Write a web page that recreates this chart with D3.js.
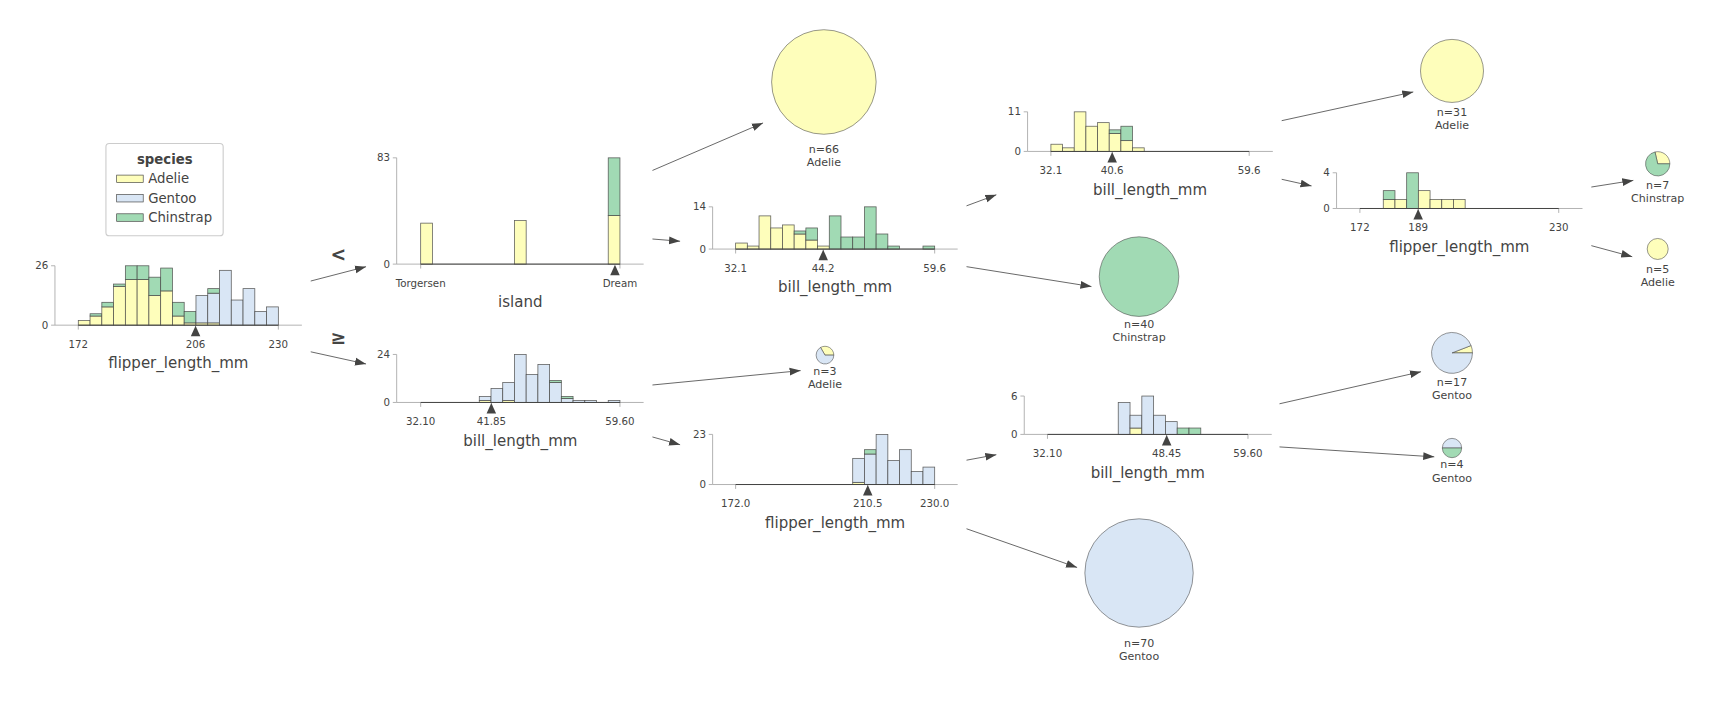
<!DOCTYPE html>
<html><head><meta charset="utf-8">
<script src="https://cdn.jsdelivr.net/npm/d3@7"></script>
<style>html,body{margin:0;padding:0;background:#fff;}svg{display:block;font-family:"DejaVu Sans",sans-serif;}</style>
</head><body>
<svg id="c" width="1734" height="718" viewBox="0 0 1568 649"></svg>
<script>
// ---------------- DATA ----------------
const species = ["Adelie", "Gentoo", "Chinstrap"];
const speciesColors = ["#FEFEBB", "#D9E6F5", "#a1dab4"];

// root: flipper_length_mm, 17 bins 172..230
const rootAdelie = [2,4,8,17,20,20,13,15,4,1,1,1,0,0,0,0,0];
const rootGentoo = [0,0,0,0,0,0,0,0,0,0,12,13,24,11,16,6,8];
const rootChin   = [0,1,2,1,6,6,8,10,6,5,0,2,0,0,0,0,0];

// island (encoded 0..2), 17 bins
const islandAdelie = [32,0,0,0,0,0,0,0,34,0,0,0,0,0,0,0,38];
const islandGentoo = [0,0,0,0,0,0,0,0,0,0,0,0,0,0,0,0,0];
const islandChin   = [0,0,0,0,0,0,0,0,0,0,0,0,0,0,0,0,45];

// bill_length_mm (>=206 branch), 17 bins 32.1..59.6
const lowBillAdelie = [0,0,0,0,0,1,0,1,0,0,0,0,0,0,0,0,0];
const lowBillGentoo = [0,0,0,0,0,2,7,9,24,14,19,10,2,1,1,0,1];
const lowBillChin   = [0,0,0,0,0,0,0,0,0,0,0,1,1,0,0,0,0];

// bill_length_mm (Dream branch)
const midBillAdelie = [2,1,11,7,8,5,3,1,0,0,0,0,0,0,0,0,0];
const midBillGentoo = [0,0,0,0,0,0,0,0,0,0,0,0,0,0,0,0,0];
const midBillChin   = [0,0,0,0,0,1,4,0,11,4,4,14,5,1,0,0,1];

// flipper_length_mm (bill >= 41.85)
const flipMidAdelie = [0,0,0,0,0,0,0,0,0,0,1,0,0,0,0,0,0];
const flipMidGentoo = [0,0,0,0,0,0,0,0,0,0,11,14,23,11,16,6,8];
const flipMidChin   = [0,0,0,0,0,0,0,0,0,0,0,2,0,0,0,0,0];

// bill_length_mm (< 44.2)
const bill406Adelie = [2,1,11,7,8,5,3,1,0,0,0,0,0,0,0,0,0];
const bill406Gentoo = [0,0,0,0,0,0,0,0,0,0,0,0,0,0,0,0,0];
const bill406Chin   = [0,0,0,0,0,1,4,0,0,0,0,0,0,0,0,0,0];

// bill_length_mm (flipper < 210.5)
const bill4845Adelie = [0,0,0,0,0,0,0,1,0,0,0,0,0,0,0,0,0];
const bill4845Gentoo = [0,0,0,0,0,0,5,2,6,3,2,0,0,0,0,0,0];
const bill4845Chin   = [0,0,0,0,0,0,0,0,0,0,0,1,1,0,0,0,0];

// flipper_length_mm (bill >= 40.6)
const flip189Adelie = [0,0,1,1,0,2,1,1,1,0,0,0,0,0,0,0,0];
const flip189Gentoo = [0,0,0,0,0,0,0,0,0,0,0,0,0,0,0,0,0];
const flip189Chin   = [0,0,1,0,4,0,0,0,0,0,0,0,0,0,0,0,0];

// leaves: counts [Adelie, Gentoo, Chinstrap]
const leafNames  = ["L66","L3","L40","L70","L31","L7","L5","L17","L4"];
const leafCounts = [[66,0,0],[1,2,0],[0,0,40],[0,70,0],[31,0,0],[2,0,5],[5,0,0],[1,16,0],[0,2,2]];
const leafLabels = ["Adelie","Adelie","Chinstrap","Gentoo","Adelie","Chinstrap","Adelie","Gentoo","Gentoo"];

// ---------------- LAYOUT ----------------
const ink = "#444443", spine = "#a9a9a9";
const svg = d3.select("#c");

const histNodes = [
 {id:"root", A:rootAdelie, G:rootGentoo, C:rootChin, dom:[172,230], split:206, ticks:[[172,"172"],[206,"206"],[230,"230"]], label:"flipper_length_mm",
  ax:49.7, y0:293.9, yTop:240.2, px:[70.8,251.7], end:273},
 {id:"island", A:islandAdelie, G:islandGentoo, C:islandChin, dom:[0,2], split:1.95, ticks:[[0,"Torgersen"],[2,"Dream"]], label:"island",
  ax:358.7, y0:238.7, yTop:142.6, px:[380.4,560.6], end:582},
 {id:"lowBill", A:lowBillAdelie, G:lowBillGentoo, C:lowBillChin, dom:[32.1,59.6], split:41.85, ticks:[[32.1,"32.10"],[41.85,"41.85"],[59.6,"59.60"]], label:"bill_length_mm",
  ax:358.7, y0:363.8, yTop:320.4, px:[380.4,560.6], end:582},
 {id:"midBill", A:midBillAdelie, G:midBillGentoo, C:midBillChin, dom:[32.1,59.6], split:44.2, ticks:[[32.1,"32.1"],[44.2,"44.2"],[59.6,"59.6"]], label:"bill_length_mm",
  ax:644.4, y0:225.1, yTop:186.9, px:[665.2,845.2], end:866},
 {id:"flipMid", A:flipMidAdelie, G:flipMidGentoo, C:flipMidChin, dom:[172,230], split:210.5, ticks:[[172,"172.0"],[210.5,"210.5"],[230,"230.0"]], label:"flipper_length_mm",
  ax:644.4, y0:438, yTop:392.7, px:[665.2,845.2], end:866},
 {id:"bill406", A:bill406Adelie, G:bill406Gentoo, C:bill406Chin, dom:[32.1,59.6], split:40.6, ticks:[[32.1,"32.1"],[40.6,"40.6"],[59.6,"59.6"]], label:"bill_length_mm",
  ax:929.2, y0:136.8, yTop:101, px:[950.3,1129.6], end:1151},
 {id:"bill4845", A:bill4845Adelie, G:bill4845Gentoo, C:bill4845Chin, dom:[32.1,59.6], split:48.45, ticks:[[32.1,"32.10"],[48.45,"48.45"],[59.6,"59.60"]], label:"bill_length_mm",
  ax:926.2, y0:392.7, yTop:358, px:[947.2,1128.5], end:1150},
 {id:"flip189", A:flip189Adelie, G:flip189Gentoo, C:flip189Chin, dom:[172,230], split:189, ticks:[[172,"172"],[189,"189"],[230,"230"]], label:"flipper_length_mm",
  ax:1208.6, y0:188.4, yTop:156.1, px:[1229.7,1409.5], end:1431}
];

// leaf centre and label (first line) baseline
const leafPos = {L66:[745,74,138], L3:[746,321,339], L40:[1030,250,296.5], L70:[1030,518,585],
                 L31:[1313,64,104.5], L7:[1499,148,170.5], L5:[1499,225,246.5], L17:[1313,319,348.5], L4:[1313,405,423.5]};

const edges = [
 [281,254,331,241],[281,318,331,329],
 [590,154,690,111],[590,216,615,218],
 [590,348,724,335],[590,395,615,402],
 [874,186,901,176],[874,241,987,259],
 [874,416,901,411],[874,478,974,513],
 [1159,109,1278,83],[1159,162,1186,168],
 [1157,365,1285,336],[1157,404,1297,413],
 [1439,169,1477,163],[1439,222,1476,232]
];

// arrow marker
svg.append("defs").append("marker").attr("id","arr").attr("viewBox","0 0 10 10")
  .attr("refX",10).attr("refY",5).attr("markerWidth",10).attr("markerHeight",10)
  .attr("markerUnits","userSpaceOnUse").attr("orient","auto")
  .append("path").attr("d","M0,1.5 L10,5 L0,8.5 Z").attr("fill",ink);

svg.append("g").selectAll("line").data(edges).join("line")
  .attr("x1",d=>d[0]).attr("y1",d=>d[1]).attr("x2",d=>d[2]).attr("y2",d=>d[3])
  .attr("stroke","#555").attr("stroke-width",0.8).attr("marker-end","url(#arr)");

// ---------------- HISTOGRAMS ----------------
histNodes.forEach(n => {
  const g = svg.append("g");
  const nb = n.A.length;
  const x = d3.scaleLinear().domain(n.dom).range(n.px);
  const totals = n.A.map((a,i)=>a+n.G[i]+n.C[i]);
  const ymax = d3.max(totals);
  const y = d3.scaleLinear().domain([0,ymax]).range([n.y0,n.yTop]);
  const bw = (n.dom[1]-n.dom[0])/nb;
  g.append("line").attr("x1",n.ax).attr("x2",n.end).attr("y1",n.y0).attr("y2",n.y0).attr("stroke",spine).attr("stroke-width",0.8);
  g.append("line").attr("x1",n.ax).attr("x2",n.ax).attr("y1",n.y0).attr("y2",n.yTop).attr("stroke",spine).attr("stroke-width",0.8);
  [0,ymax].forEach(v=>{
    g.append("line").attr("x1",n.ax-3.5).attr("x2",n.ax).attr("y1",y(v)).attr("y2",y(v)).attr("stroke",spine).attr("stroke-width",0.8);
    g.append("text").attr("x",n.ax-6).attr("y",y(v)+3.3).attr("text-anchor","end").attr("font-size",9.3).attr("fill",ink).text(v);
  });
  n.ticks.forEach(([v,t])=>{
    g.append("line").attr("x1",x(v)).attr("x2",x(v)).attr("y1",n.y0).attr("y2",n.y0+4).attr("stroke",spine).attr("stroke-width",0.8);
    g.append("text").attr("x",x(v)).attr("y",n.y0+20.5).attr("text-anchor","middle").attr("font-size",9.3).attr("fill",ink).text(t);
  });
  const series = [n.A,n.G,n.C];
  for (let i=0;i<nb;i++){
    let base = 0;
    series.forEach((s,k)=>{
      const v = s[i];
      if (v>0){
        g.append("rect").attr("x",x(n.dom[0]+i*bw)).attr("width",x(n.dom[0]+bw)-x(n.dom[0]))
          .attr("y",y(base+v)).attr("height",y(base)-y(base+v))
          .attr("fill",speciesColors[k]).attr("stroke",ink).attr("stroke-width",0.7).attr("stroke-opacity",0.85);
      }
      base += v;
    });
  }
  g.append("line").attr("x1",n.px[0]).attr("x2",n.px[1]).attr("y1",n.y0).attr("y2",n.y0).attr("stroke",ink).attr("stroke-width",0.9);
  const sx = x(n.split);
  g.append("path").attr("d",`M${sx},${n.y0+0.5} L${sx-4.3},${n.y0+10} L${sx+4.3},${n.y0+10} Z`).attr("fill",ink);
  g.append("text").attr("x",(n.px[0]+n.px[1])/2).attr("y",n.y0+39).attr("text-anchor","middle").attr("font-size",13.6).attr("fill",ink).text(n.label);
});

// split direction labels
svg.append("text").attr("x",306).attr("y",236).attr("text-anchor","middle").attr("font-size",17).attr("font-weight","bold").attr("fill",ink).text("<");
svg.append("text").attr("x",306).attr("y",311).attr("text-anchor","middle").attr("font-size",17).attr("font-weight","bold").attr("fill",ink).text("≥");

// ---------------- LEAVES ----------------
const rScale = d3.scaleLinear().domain([3,7,17,31,40,70]).range([8,11,18.5,28.5,36,49]);
const pie = d3.pie().sort(null).startAngle(Math.PI/2).endAngle(Math.PI/2-2*Math.PI);
leafNames.forEach((nm,i)=>{
  const counts = leafCounts[i];
  const n = d3.sum(counts);
  const r = rScale(n);
  const [cx,cy,ty] = leafPos[nm];
  const g = svg.append("g").attr("transform",`translate(${cx},${cy})`);
  const arc = d3.arc().innerRadius(0).outerRadius(r);
  g.selectAll("path").data(pie(counts).filter(d=>d.value>0)).join("path")
    .attr("d",arc).attr("fill",(d)=>speciesColors[d.index]).attr("stroke",ink).attr("stroke-width",0.5);
  g.append("text").attr("x",0).attr("y",ty-cy).attr("text-anchor","middle").attr("font-size",10).attr("fill",ink).text("n="+n);
  g.append("text").attr("x",0).attr("y",ty-cy+12).attr("text-anchor","middle").attr("font-size",10).attr("fill",ink).text(leafLabels[i]);
});

// ---------------- LEGEND ----------------
const lg = svg.append("g");
lg.append("rect").attr("x",95.8).attr("y",129.6).attr("width",106).attr("height",83.5).attr("rx",3)
  .attr("fill","#fff").attr("stroke","#cccccc").attr("stroke-width",1);
lg.append("text").attr("x",149).attr("y",148).attr("text-anchor","middle").attr("font-size",12).attr("font-weight","bold").attr("fill",ink).text("species");
species.forEach((s,i)=>{
  lg.append("rect").attr("x",105.5).attr("y",158.2+i*17.5).attr("width",24).attr("height",6.8)
    .attr("fill",speciesColors[i]).attr("stroke",ink).attr("stroke-width",0.6);
  lg.append("text").attr("x",134).attr("y",165.8+i*17.5).attr("font-size",12).attr("fill",ink).text(s);
});
</script>
</body></html>
